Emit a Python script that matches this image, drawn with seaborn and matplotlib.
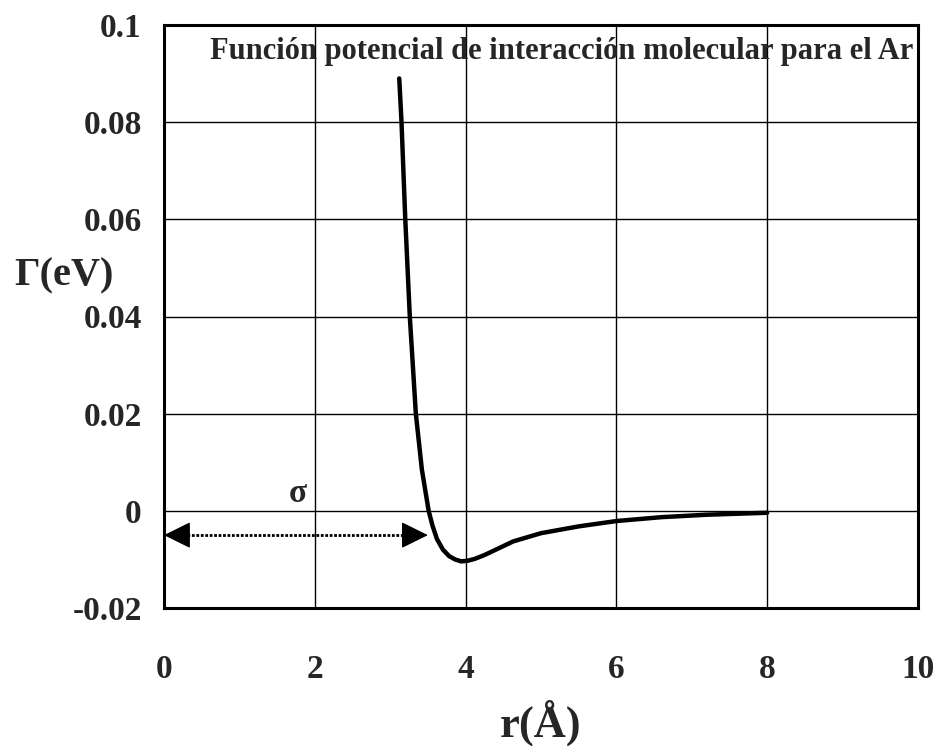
import matplotlib
matplotlib.use("Agg")
import matplotlib.pyplot as plt
import seaborn as sns
import pandas as pd

# Lennard-Jones type interaction potential for argon, read point by point
r_vals = [3.12, 3.15, 3.20, 3.26, 3.34, 3.42, 3.51, 3.56, 3.62, 3.70, 3.78, 3.86,
          3.94, 4.02, 4.12, 4.25, 4.40, 4.63, 5.00, 5.50, 6.00, 6.60, 7.20, 8.00]
gamma_vals = [0.089, 0.080, 0.060, 0.040, 0.020, 0.0085, 0.0, -0.0030, -0.0058,
              -0.0080, -0.0093, -0.0100, -0.0104, -0.0103, -0.0099, -0.0091,
              -0.0080, -0.0063, -0.0046, -0.0032, -0.0021, -0.0013, -0.0008,
              -0.0004]

x_ticks = [0, 2, 4, 6, 8, 10]
x_tick_labels = ["0", "2", "4", "6", "8", "10"]
y_ticks = [-0.02, 0.0, 0.02, 0.04, 0.06, 0.08, 0.1]
y_tick_labels = ["-0.02", "0", "0.02", "0.04", "0.06", "0.08", "0.1"]

sigma_r = 3.5           # zero crossing of the potential
sigma_arrow_y = -0.005  # height of the sigma span arrow

title_text = "Función potencial de interacción molecular para el Ar"

sns.set_style("white")
plt.rcParams["font.family"] = ["Liberation Serif", "DejaVu Serif"]
plt.rcParams["font.weight"] = "bold"

df = pd.DataFrame({"r": r_vals, "gamma": gamma_vals})

fig = plt.figure(figsize=(9.36, 7.46), dpi=100)
ax = fig.add_axes([164 / 936, 1 - 608 / 746, 754 / 936, 583 / 746])

sns.lineplot(data=df, x="r", y="gamma", ax=ax, color="black", linewidth=3.2,
             sort=False, estimator=None)

ax.set_xlim(0, 10)
ax.set_ylim(-0.02, 0.1)
ax.set_xticks(x_ticks)
ax.set_xticklabels(x_tick_labels)
ax.set_yticks(y_ticks)
ax.set_yticklabels(y_tick_labels)

ax.grid(True, color="black", linewidth=1.0)
ax.set_axisbelow(True)
for sp in ax.spines.values():
    sp.set_color("black")
    sp.set_linewidth(2.2)

ax.tick_params(axis="both", which="major", direction="out", length=4, width=1.2,
               color="black", labelsize=24)
ax.tick_params(axis="x", pad=29)
ax.tick_params(axis="y", pad=12)
for lab in ax.get_xticklabels() + ax.get_yticklabels():
    lab.set_fontweight("bold")

ax.set_xlabel("r(Å)", fontsize=32, fontweight="bold")
ax.xaxis.set_label_coords(0.5, -0.196)
ax.xaxis.label.set_va("center")
ax.set_ylabel("Γ(eV)", fontsize=29, fontweight="bold", rotation=0)
ax.yaxis.set_label_coords(-0.133, 0.569)
ax.yaxis.label.set_va("center")
ax.yaxis.label.set_ha("center")

ax.text(5.27, 0.0946, title_text, ha="center", va="center", fontsize=22,
        fontweight="bold")

# sigma span: dotted shaft with solid triangular heads at both ends
head_len = 0.3
ax.plot([head_len, sigma_r - head_len], [sigma_arrow_y, sigma_arrow_y],
        color="black", linewidth=2, linestyle=(0, (1, 0.6)))
for tip, tail in [(0.0, head_len), (sigma_r, sigma_r - head_len)]:
    ax.annotate("", xy=(tip, sigma_arrow_y), xytext=(tail, sigma_arrow_y),
                arrowprops=dict(arrowstyle="-|>,head_length=0.85,head_width=0.42",
                                mutation_scale=20, lw=1, color="black",
                                shrinkA=0, shrinkB=0))
ax.text(1.78, 0.0003, "σ", ha="center", va="bottom", fontsize=24,
        fontweight="bold")

fig.savefig("out.png", dpi=100)
